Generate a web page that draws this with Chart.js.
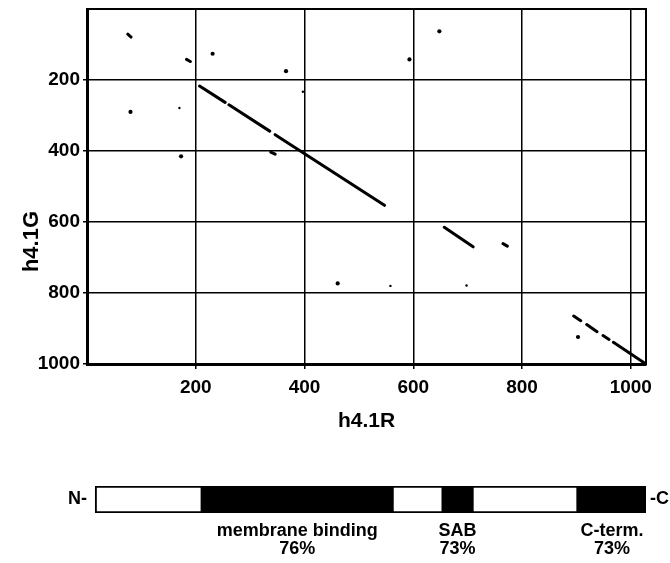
<!DOCTYPE html>
<html>
<head>
<meta charset="utf-8">
<script src="https://cdn.jsdelivr.net/npm/chart.js@4.4.1/dist/chart.umd.min.js"></script>
<style>
  html, body { margin: 0; padding: 0; background: #fff; }
  #wrap { position: relative; width: 670px; height: 563px; }
  #c1 { position: absolute; left: 0; top: 0; }
  #c2 { position: absolute; left: 0; top: 440px; }
</style>
</head>
<body>
<div id="wrap">
  <canvas id="c1" width="670" height="440"></canvas>
  <canvas id="c2" width="670" height="123"></canvas>
</div>
<script>
// ---------- data ----------
const xTitle = 'h4.1R';
const yTitle = 'h4.1G';
const xTickValues = [200, 400, 600, 800, 1000];
const yTickValues = [200, 400, 600, 800, 1000];

// similarity segments (diagonal runs): start / end points
const segX1 = [75, 183, 207, 261, 346, 338, 657, 765, 895, 919, 949, 968];
const segY1 = [71, 142, 217, 270, 354, 403, 615, 661, 865, 889, 920, 939];
const segX2 = [81, 190, 254, 336, 547, 346, 710, 773, 908, 938, 960, 1028];
const segY2 = [79, 148, 263, 344, 553, 409, 670, 668, 878, 909, 931, 1000];

// isolated dots
const dotX = [231, 366, 80, 173, 648, 593, 461, 903];
const dotY = [126, 175, 290, 415, 63, 142, 773, 924];
const tinyX = [170, 397, 558, 698];
const tinyY = [279, 233, 780, 779];

// domain map of h4.1R
const domainStart = [15, 212, 561, 655, 708, 903];
const domainEnd   = [212, 561, 655, 708, 903, 1028];
const domainFilled = [false, true, false, true, false, true];
const domainNames = ['membrane binding', 'SAB', 'C-term.'];
const domainIdentity = ['76%', '73%', '73%'];

// ---------- build ----------
const FONT = '"Liberation Sans", Arial, Helvetica, sans-serif';
const segData = [];
segX1.forEach((x, i) => {
  segData.push({x: x, y: segY1[i]}, {x: segX2[i], y: segY2[i]}, {x: segX2[i], y: null});
});
const dots = dotX.map((x, i) => ({x: x, y: dotY[i]}));
const tiny = tinyX.map((x, i) => ({x: x, y: tinyY[i]}));

const yTitlePlugin = {
  id: 'yTitlePlugin',
  afterDraw(chart) {
    const {ctx, scales: {y}} = chart;
    const py = y.getPixelForValue(655);
    ctx.save();
    ctx.translate(32, py);
    ctx.rotate(-Math.PI / 2);
    ctx.font = 'bold 22px ' + FONT;
    ctx.textAlign = 'center';
    ctx.textBaseline = 'middle';
    ctx.fillStyle = '#000';
    ctx.fillText(yTitle, 0, 0);
    ctx.restore();
  }
};

const plainNum = v => String(v);

new Chart(document.getElementById('c1'), {
  type: 'scatter',
  data: {
    datasets: [
      { data: segData, showLine: true, spanGaps: false, borderColor: '#000', borderWidth: 3,
        borderCapStyle: 'round', pointRadius: 0, tension: 0 },
      { data: dots, showLine: false, pointRadius: 2.1, backgroundColor: '#000', borderWidth: 0 },
      { data: tiny, showLine: false, pointRadius: 1.2, backgroundColor: '#000', borderWidth: 0 }
    ]
  },
  options: {
    responsive: false,
    animation: false,
    layout: { padding: { top: 9, right: 24, left: 0, bottom: 0 } },
    plugins: { legend: { display: false }, tooltip: { enabled: false } },
    scales: {
      x: {
        type: 'linear', position: 'bottom', min: 0, max: 1028,
        afterBuildTicks: s => { s.ticks = xTickValues.map(v => ({value: v})); },
        afterFit: s => { s.height = 76; s.paddingLeft = 0; s.paddingRight = 0; },
        grid: { color: '#000', lineWidth: 1.5, drawTicks: true, tickLength: 5 },
        border: { color: '#000', width: 3 },
        ticks: { color: '#000', padding: 7, maxRotation: 0, callback: plainNum,
                 font: { family: FONT, size: 19, weight: 'bold' } },
        title: { display: true, text: xTitle, color: '#000', padding: { top: 0, bottom: 6 },
                 font: { family: FONT, size: 21, weight: 'bold' } }
      },
      y: {
        type: 'linear', position: 'left', min: 0, max: 1000, reverse: true,
        afterBuildTicks: s => { s.ticks = yTickValues.map(v => ({value: v})); },
        afterFit: s => { s.width = 87; s.paddingTop = 0; s.paddingBottom = 0; },
        grid: { color: '#000', lineWidth: 1.5, drawTicks: true, tickLength: 4 },
        border: { color: '#000', width: 3 },
        ticks: { color: '#000', padding: 3, callback: plainNum,
                 font: { family: FONT, size: 19, weight: 'bold' } }
      },
      xTop: {
        type: 'linear', axis: 'x', position: 'top', min: 0, max: 1,
        afterFit: s => { s.height = 0; s.paddingLeft = 0; s.paddingRight = 0; },
        grid: { display: false, drawTicks: false },
        ticks: { display: false },
        border: { color: '#000', width: 2 }
      },
      yRight: {
        type: 'linear', axis: 'y', position: 'right', min: 0, max: 1,
        afterFit: s => { s.width = 0; s.paddingTop = 0; s.paddingBottom = 0; },
        grid: { display: false, drawTicks: false },
        ticks: { display: false },
        border: { color: '#000', width: 2 }
      }
    }
  },
  plugins: [yTitlePlugin]
});

// ---------- domain bar ----------
const filledIdx = [];
domainFilled.forEach((f, i) => { if (f) filledIdx.push(i); });
const labelCenters = filledIdx.map(i => (domainStart[i] + domainEnd[i]) / 2);

new Chart(document.getElementById('c2'), {
  type: 'bar',
  data: {
    labels: ['N-'],
    datasets: domainStart.map((s, i) => ({
      data: [[s, domainEnd[i]]],
      backgroundColor: domainFilled[i] ? '#000' : '#fff',
      borderColor: '#000',
      borderWidth: 2,
      borderSkipped: false,
      grouped: false,
      barPercentage: 1,
      categoryPercentage: 1
    }))
  },
  options: {
    indexAxis: 'y',
    responsive: false,
    animation: false,
    layout: { padding: { top: 46, right: 0, left: 0, bottom: 0 } },
    plugins: { legend: { display: false }, tooltip: { enabled: false } },
    scales: {
      x: {
        type: 'linear', position: 'bottom', min: 0, max: 1028,
        afterBuildTicks: s => { s.ticks = labelCenters.map(v => ({value: v})); },
        afterFit: s => { s.height = 50; s.paddingLeft = 0; s.paddingRight = 0; },
        grid: { display: false, drawTicks: false },
        border: { display: false },
        ticks: {
          color: '#000', padding: 9, maxRotation: 0, autoSkip: false,
          font: { family: FONT, size: 18, weight: 'bold', lineHeight: 1.0 },
          callback: (v) => {
            const k = labelCenters.indexOf(v);
            return k >= 0 ? [domainNames[k], domainIdentity[k]] : '';
          }
        }
      },
      y: {
        type: 'category', position: 'left',
        afterFit: s => { s.width = 87; s.paddingTop = 0; s.paddingBottom = 0; },
        grid: { display: false, drawTicks: false },
        border: { display: false },
        ticks: { color: '#000', padding: 0, font: { family: FONT, size: 18, weight: 'bold' } }
      },
      y2: {
        type: 'category', position: 'right', labels: ['-C'],
        afterFit: s => { s.width = 24; s.paddingTop = 0; s.paddingBottom = 0; },
        grid: { display: false, drawTicks: false },
        border: { display: false },
        ticks: { color: '#000', padding: 4, font: { family: FONT, size: 18, weight: 'bold' } }
      }
    }
  }
});
</script>
</body>
</html>
